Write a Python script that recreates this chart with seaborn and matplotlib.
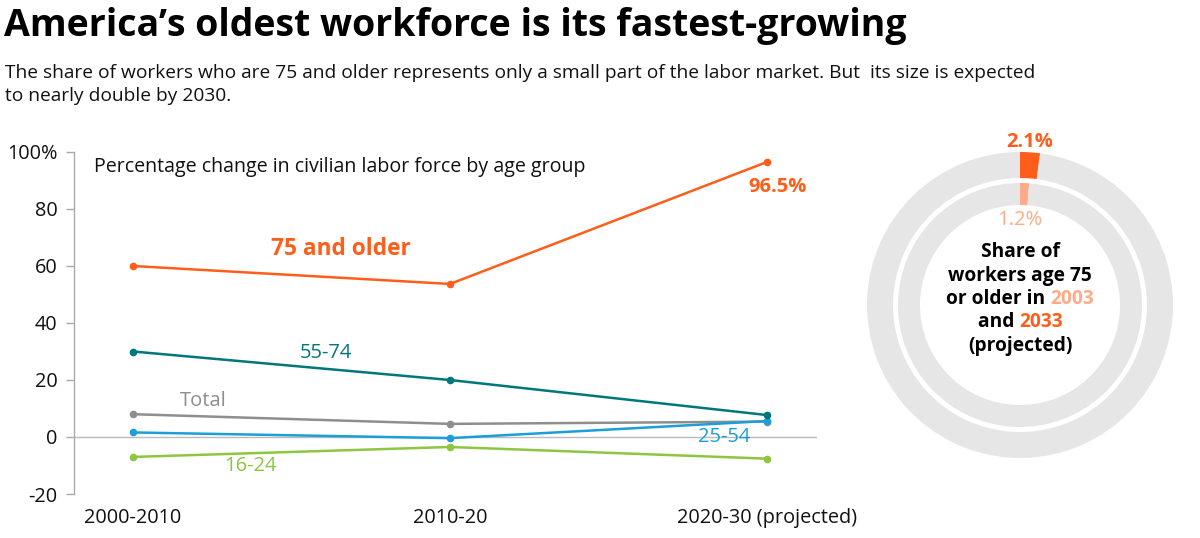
import matplotlib
matplotlib.use("Agg")
import matplotlib.pyplot as plt
import seaborn as sns
import pandas as pd
from matplotlib.offsetbox import TextArea, HPacker, AnnotationBbox

# ---------------- data ----------------
periods = ["2000-2010", "2010-20", "2020-30 (projected)"]
age_75_plus = [60.0, 53.7, 96.5]
age_55_74 = [30.0, 20.0, 7.7]
total = [8.0, 4.6, 5.4]
age_25_54 = [1.6, -0.4, 5.6]
age_16_24 = [-7.0, -3.5, -7.6]
series_names = ["75 and older", "55-74", "Total", "25-54", "16-24"]
y_ticks = [-20, 0, 20, 40, 60, 80, 100]
y_tick_labels = ["-20", "0", "20", "40", "60", "80", "100%"]
share_2003 = 1.2
share_2033 = 2.1

ORANGE = "#FF5E1A"
LIGHT_ORANGE = "#FFAA88"
TEAL = "#00777B"
BLUE = "#1C9ED9"
GREEN = "#8DC63F"
GRAY = "#8E8E8E"
RING = "#E6E6E6"

sns.set_theme(style="white")
plt.rcParams["font.family"] = ["Open Sans", "DejaVu Sans"]

W, H = 1200, 538
fig = plt.figure(figsize=(W / 100, H / 100), dpi=100)

def fx(px):
    return px / W

def fy(py):
    return 1 - py / H

# ---------------- long-form table ----------------
rows = []
for name, vals in zip(series_names, [age_75_plus, age_55_74, total, age_25_54, age_16_24]):
    for i, (p, v) in enumerate(zip(periods, vals)):
        rows.append({"series": name, "pos": i, "period": p, "value": v})
df = pd.DataFrame(rows)
palette = {"75 and older": ORANGE, "55-74": TEAL, "Total": GRAY, "25-54": BLUE, "16-24": GREEN}

# ---------------- line chart ----------------
ax_l, ax_r = 74, 817
ax_t, ax_b = 152, 494
ax = fig.add_axes([fx(ax_l), fy(ax_b), (ax_r - ax_l) / W, (ax_b - ax_t) / H])
ax.axhline(0, color="#BBBBBB", lw=1, zorder=1)
draw_order = ["16-24", "Total", "25-54", "55-74", "75 and older"]
for name in draw_order:
    sub = df[df.series == name]
    sns.lineplot(data=sub, x="pos", y="value", color=palette[name], marker="o",
                 markersize=5.5, markeredgewidth=0, lw=1.8, ax=ax, zorder=3)

x0_px, x2_px = 133, 767
ppu = (x2_px - x0_px) / 2
ax.set_xlim(0 - (x0_px - ax_l) / ppu, 2 + (ax_r - x2_px) / ppu)
ax.set_ylim(-20, 100)
ax.set_xlabel("")
ax.set_ylabel("")
ax.set_yticks(y_ticks)
ax.set_yticklabels(y_tick_labels, fontsize=14.3, color="#111111")
ax.set_xticks([0, 1, 2])
ax.set_xticklabels(periods, fontsize=14.3, color="#111111")
ax.tick_params(axis="y", length=6, width=1, color="#AAAAAA", pad=6, left=True)
ax.tick_params(axis="x", length=0, pad=10)
for s in ["top", "right", "bottom"]:
    ax.spines[s].set_visible(False)
ax.spines["left"].set_color("#AAAAAA")
ax.spines["left"].set_linewidth(1)
ax.patch.set_alpha(0)
ax.grid(False)

# ---------------- texts ----------------
fig.text(fx(4), fy(26), "America\u2019s oldest workforce is its fastest-growing",
         fontsize=27, fontweight="bold", color="black", va="center", ha="left")
fig.text(fx(5), fy(73), "The share of workers who are 75 and older represents only a small part of the labor market. But  its size is expected",
         fontsize=13.8, color="#111111", va="center", ha="left")
fig.text(fx(5), fy(96), "to nearly double by 2030.",
         fontsize=13.8, color="#111111", va="center", ha="left")
fig.text(fx(94), fy(167), "Percentage change in civilian labor force by age group",
         fontsize=14.1, color="#111111", va="center", ha="left")

fig.text(fx(341), fy(249), "75 and older", fontsize=16.3, fontweight="bold", color=ORANGE, ha="center", va="center")
fig.text(fx(778), fy(187), "96.5%", fontsize=14.5, fontweight="bold", color=ORANGE, ha="center", va="center")
fig.text(fx(326), fy(353), "55-74", fontsize=14.5, color=TEAL, ha="center", va="center")
fig.text(fx(203), fy(401), "Total", fontsize=14.5, color=GRAY, ha="center", va="center")
fig.text(fx(724), fy(437), "25-54", fontsize=14.5, color=BLUE, ha="center", va="center")
fig.text(fx(250), fy(466), "16-24", fontsize=14.5, color=GREEN, ha="center", va="center")

# ---------------- donut ----------------
cx, cy, half = 1020, 305, 175
axd = fig.add_axes([fx(cx - half), fy(cy + half), 2 * half / W, 2 * half / H])
axd.pie([share_2033, 100 - share_2033], radius=153, startangle=90, counterclock=False,
        colors=[ORANGE, RING], wedgeprops=dict(width=26, linewidth=0))
axd.pie([share_2003, 100 - share_2003], radius=122, startangle=90, counterclock=False,
        colors=[LIGHT_ORANGE, RING], wedgeprops=dict(width=22, linewidth=0))
axd.set_xlim(-half, half)
axd.set_ylim(-half, half)
axd.set_aspect("equal")
axd.axis("off")

axd.text(10, 163, f"{share_2033}%", fontsize=14.5, fontweight="bold", color=ORANGE, ha="center", va="center")
axd.text(0, 85, f"{share_2003}%", fontsize=14.5, color=LIGHT_ORANGE, ha="center", va="center")

def multi(parts, y):
    areas = [TextArea(t, textprops=dict(fontsize=13.8, fontweight="bold", color=c,
                                        family=["Open Sans", "DejaVu Sans"])) for t, c in parts]
    box = HPacker(children=areas, pad=0, sep=0, align="baseline")
    ab = AnnotationBbox(box, (0, y), xycoords="data", frameon=False, box_alignment=(0.5, 0.5), pad=0)
    axd.add_artist(ab)

multi([("Share of", "black")], 53)
multi([("workers age 75", "black")], 29)
multi([("or older in ", "black"), ("2003", LIGHT_ORANGE)], 6)
multi([("and ", "black"), ("2033", ORANGE)], -17)
multi([("(projected)", "black")], -41)

fig.savefig("out.png", dpi=100)
